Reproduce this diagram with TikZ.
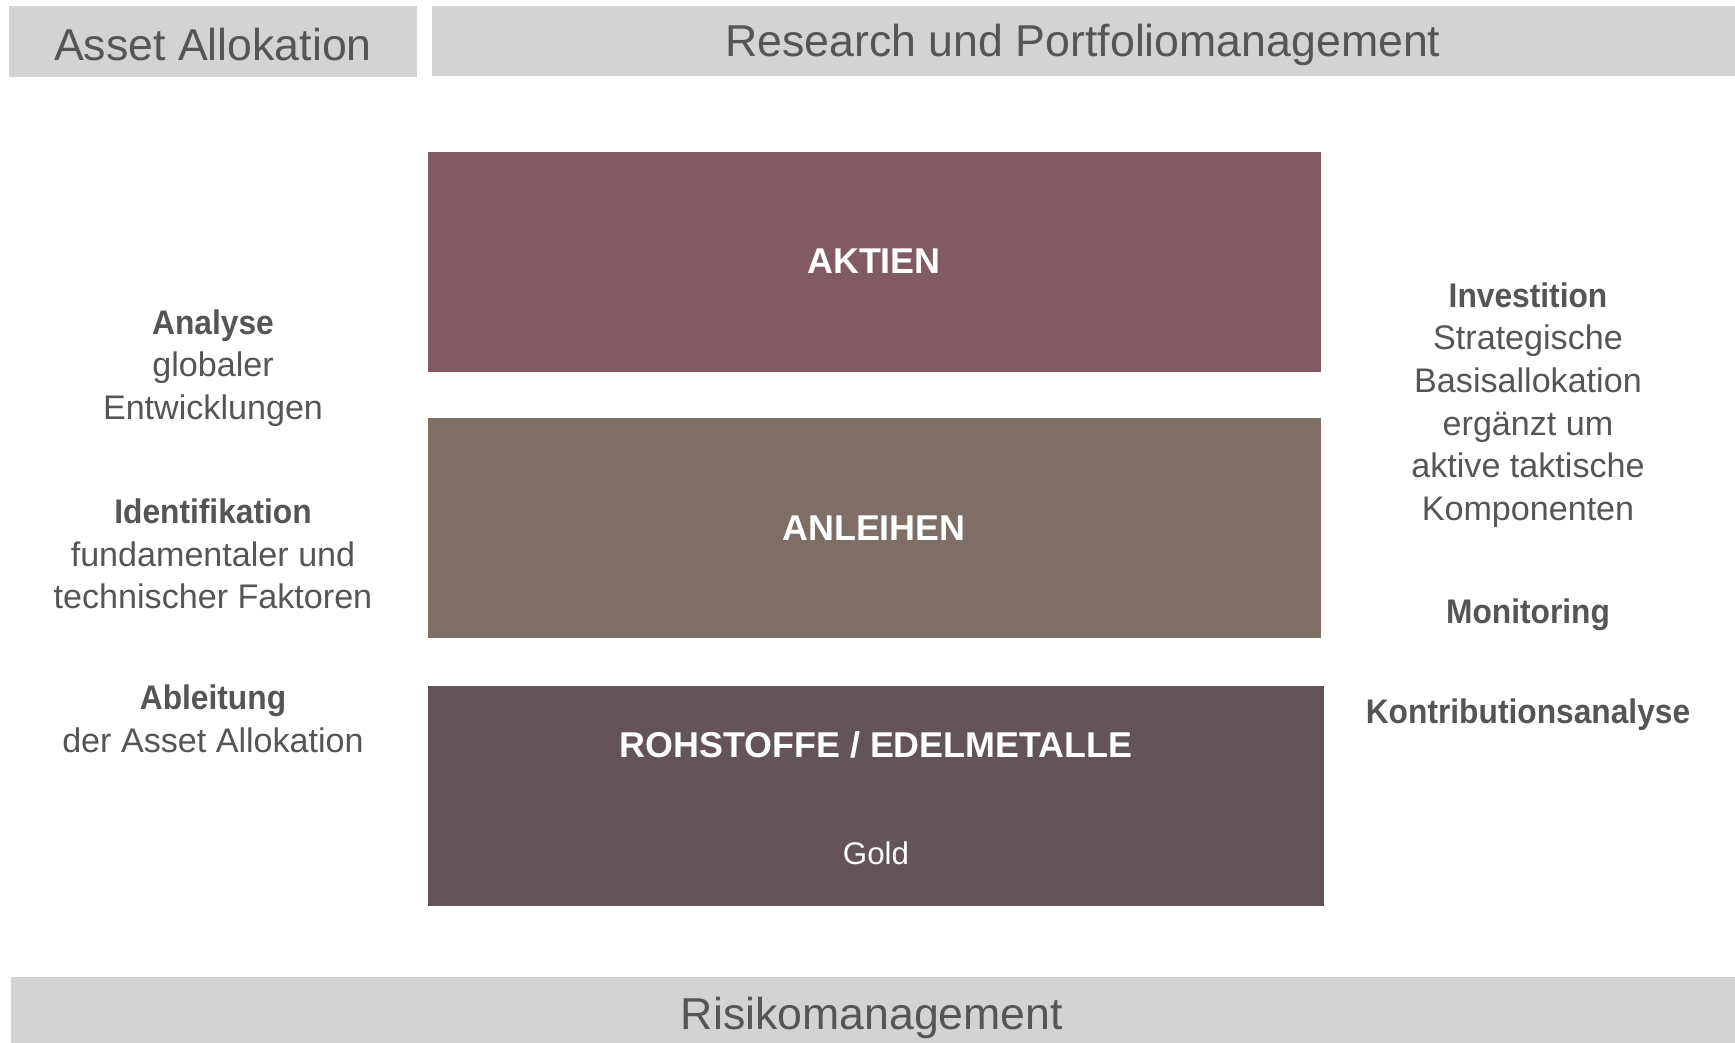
\documentclass[tikz,border=0pt]{standalone}
\usepackage{fontspec}
\setmainfont{Liberation Sans}
\newfontfamily\schmalfett{Liberation Sans}[FakeStretch=0.93]
\newcommand{\stichwort}[1]{{\schmalfett\bfseries #1}}
\definecolor{balkengrau}{HTML}{D3D3D3}
\definecolor{textgrau}{HTML}{555555}
\definecolor{aktienrot}{HTML}{825A64}
\definecolor{anleihenbraun}{HTML}{7E6E66}
\definecolor{rohstoffbraun}{HTML}{645359}
\begin{document}
\begin{tikzpicture}[x=0.01cm,y=-0.01cm,
    kopf/.style={text=textgrau,font=\fontsize{12.7}{15}\selectfont},
    klasse/.style={text=white,font=\bfseries\fontsize{10.2}{12}\selectfont},
    spalte/.style={text=textgrau,align=center,font=\fontsize{9.7}{12.1}\selectfont}]
    \useasboundingbox (0,0) rectangle (1735,1043);
    % graue Balken
    \fill[balkengrau] (9,6)--(417,6)--(417,77)--(9,77)--cycle;
    \fill[balkengrau] (432,6)--(1735,6)--(1735,76)--(432,76)--cycle;
    \fill[balkengrau] (11,977)--(1735,977)--(1735,1043)--(11,1043)--cycle;
    \node[kopf] (allokation) at (213,45) {Asset Allokation};
    \node[kopf] (research) at (1083,45) {Research und Portfoliomanagement};
    \node[kopf] (risiko) at (872,1018) {Risikomanagement};

    % Anlageklassen
    \fill[aktienrot] (428,152)--(1321,152)--(1321,372)--(428,372)--cycle;
    \node[klasse] (aktien) at (874,261) {AKTIEN};
    \fill[anleihenbraun] (428,418)--(1321,418)--(1321,638)--(428,638)--cycle;
    \node[klasse] (anleihen) at (874,528) {ANLEIHEN};
    \fill[rohstoffbraun] (428,686)--(1324,686)--(1324,906)--(428,906)--cycle;
    \node[klasse] (rohstoffe) at (876,745) {ROHSTOFFE / EDELMETALLE};
    \node[text=white,font=\fontsize{8.9}{11}\selectfont] (gold) at (876,853) {Gold};

    % linke Spalte
    \node[spalte] (analyse) at (213,368) {\stichwort{Analyse}\\globaler\\Entwicklungen};
    \node[spalte] (identifikation) at (213,554) {\stichwort{Identifikation}\\fundamentaler und\\technischer Faktoren};
    \node[spalte] (ableitung) at (213,719) {\stichwort{Ableitung}\\der Asset Allokation};

    % rechte Spalte
    \node[spalte] (investition) at (1528,405) {\stichwort{Investition}\\Strategische\\Basisallokation\\ergänzt um\\aktive taktische\\Komponenten};
    \node[spalte] (monitoring) at (1528,615) {\stichwort{Monitoring}};
    \node[spalte] (kontribution) at (1528,715) {\stichwort{Kontributionsanalyse}};
\end{tikzpicture}
\end{document}
